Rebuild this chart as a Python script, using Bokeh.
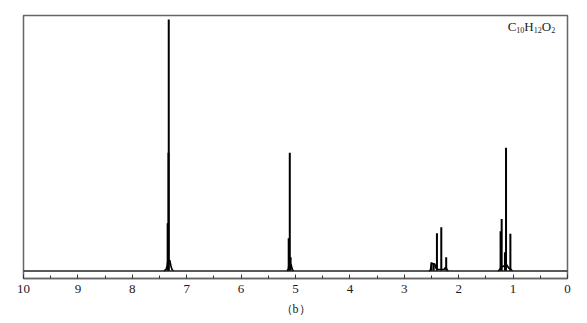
from bokeh.plotting import figure
from bokeh.models import Range1d, Label, ColumnDataSource, FixedTicker
from bokeh.embed import file_html
from bokeh.resources import INLINE

# chemical shift (ppm) and relative intensity of each line
peak_ppm = [7.35, 7.335, 7.33, 5.125, 5.105, 5.09,
            2.50, 2.46, 2.40, 2.32, 2.23,
            1.23, 1.21, 1.15, 1.13, 1.05]
peak_int = [0.19, 0.47, 1.0, 0.13, 0.47, 0.055,
            0.035, 0.03, 0.15, 0.174, 0.055,
            0.158, 0.207, 0.075, 0.49, 0.148]

# broad feet of the signals
foot1_ppm = [7.42, 7.38, 7.36, 7.345, 7.31, 7.29, 7.27, 7.24]
foot1_int = [0.0, 0.006, 0.02, 0.042, 0.042, 0.02, 0.006, 0.0]
foot2_ppm = [5.16, 5.13, 5.12, 5.08, 5.06, 5.04]
foot2_int = [0.0, 0.008, 0.025, 0.025, 0.008, 0.0]
foot3_ppm = [2.55, 2.52, 2.50, 2.44, 2.42, 2.38, 2.35, 2.27, 2.24, 2.21, 2.19]
foot3_int = [0.0, 0.003, 0.03, 0.028, 0.012, 0.006, 0.006, 0.006, 0.015, 0.004, 0.0]
foot4_ppm = [1.28, 1.25, 1.22, 1.17, 1.12, 1.08, 1.04, 1.01]
foot4_int = [0.0, 0.004, 0.015, 0.02, 0.025, 0.012, 0.006, 0.0]

# baseline
base_ppm = [10.0, 0.0]
base_int = [0.0, 0.0]

tick_vals = [10, 9, 8, 7, 6, 5, 4, 3, 2, 1, 0]

p = figure(width=587, height=323, output_backend="svg", toolbar_location=None,
           x_range=Range1d(10, 0), y_range=Range1d(-0.0298, 1.016),
           min_border_left=23, min_border_right=20, min_border_top=15,
           min_border_bottom=45)
p.background_fill_color = "white"
p.border_fill_color = "white"
p.outline_line_color = "#666666"
p.outline_line_width = 1.5
p.grid.visible = False
p.yaxis.visible = False

src = ColumnDataSource(dict(x=peak_ppm, y0=[0] * len(peak_ppm), y=peak_int))
p.segment(x0="x", y0="y0", x1="x", y1="y", source=src, line_color="black",
          line_width=2)
for fx, fy in [(foot1_ppm, foot1_int), (foot2_ppm, foot2_int),
               (foot3_ppm, foot3_int), (foot4_ppm, foot4_int)]:
    p.line(fx, fy, line_color="black", line_width=1.6)
p.line(base_ppm, base_int, line_color="#222222", line_width=1.5)

ax = p.xaxis[0]
ax.ticker = FixedTicker(ticks=tick_vals,
                        minor_ticks=[v + 0.5 for v in tick_vals[1:]])
ax.axis_line_color = "#666666"
ax.axis_line_width = 1.5
ax.major_tick_in = 4
ax.major_tick_out = 0
ax.minor_tick_in = 3
ax.minor_tick_out = 0
ax.major_tick_line_color = "#333333"
ax.minor_tick_line_color = "#333333"
ax.major_label_text_font = "Liberation Serif"
ax.major_label_text_font_size = "13px"
ax.major_label_text_color = "#1a1a1a"
ax.major_label_standoff = 6
ax.axis_label = "（b）"
ax.axis_label_text_font = "Liberation Serif"
ax.axis_label_text_font_size = "12px"
ax.axis_label_text_font_style = "normal"
ax.axis_label_text_color = "#222222"
ax.axis_label_standoff = 6

# molecular formula with subscripts
parts = [("C", "13px", 0, 0), ("10", "8px", 8.7, -3), ("H", "13px", 16.7, 0),
         ("12", "8px", 26.1, -3), ("O", "13px", 34.1, 0), ("2", "8px", 43.5, -3)]
for txt, size, dx, dy in parts:
    p.add_layout(Label(x=1.10, y=0.972, x_offset=dx, y_offset=dy, text=txt,
                       text_font="Liberation Serif", text_font_size=size,
                       text_color="#222222", text_baseline="alphabetic",
                       text_align="left"))

open("out.html", "w").write(file_html(p, INLINE))
